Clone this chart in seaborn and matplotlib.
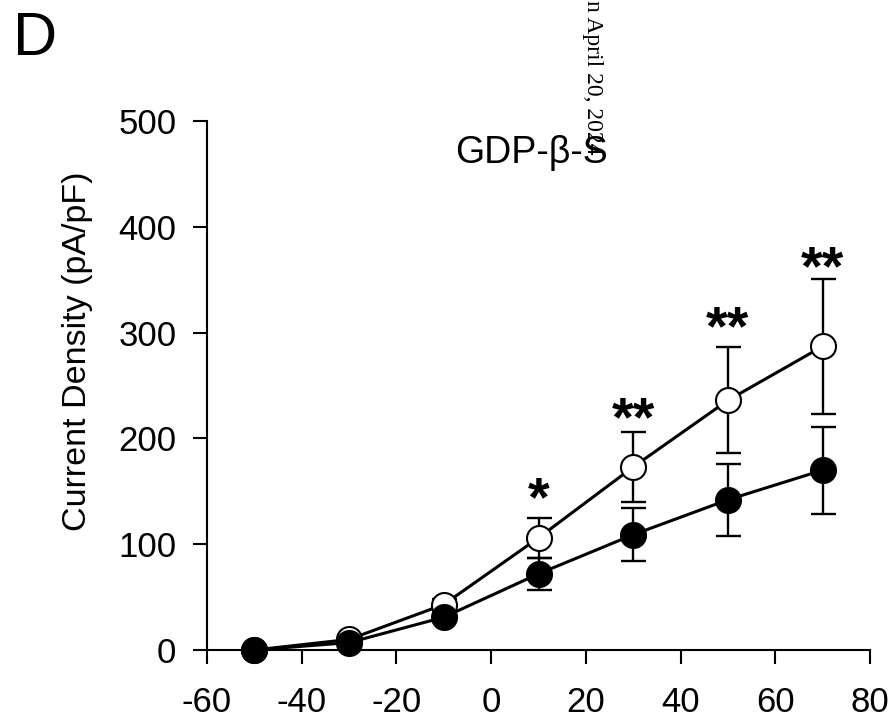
import matplotlib
matplotlib.use("Agg")
import matplotlib.pyplot as plt
import seaborn as sns
import pandas as pd

# membrane potential (mV)
voltage = [-50, -30, -10, 10, 30, 50, 70]

# open circles
open_mean = [0, 10, 43, 106, 173, 236, 287]
open_sem = [0, 3, 5, 19, 33, 50, 64]

# filled circles (GDP-beta-S)
filled_mean = [0, 7, 31, 72, 109, 142, 170]
filled_sem = [0, 3, 4, 15, 25, 34, 41]

# significance marks
star_x = [10, 30, 50, 70]
star_text = ["*", "**", "**", "**"]
star_y = [127, 203, 289, 346]

df_open = pd.DataFrame({"V": voltage, "I": open_mean})
df_filled = pd.DataFrame({"V": voltage, "I": filled_mean})

sns.set_style("ticks")
plt.rcParams["font.family"] = ["Liberation Sans", "DejaVu Sans"]
plt.rcParams["axes.unicode_minus"] = False
plt.rcParams["text.color"] = "black"
plt.rcParams["axes.labelcolor"] = "black"
plt.rcParams["xtick.color"] = "black"
plt.rcParams["ytick.color"] = "black"
plt.rcParams["axes.edgecolor"] = "black"

fig = plt.figure(figsize=(8.94, 7.2), dpi=100)
ax = fig.add_axes([0.2315, 0.0972, 0.7417, 0.7348])

# error bars first so the markers sit over them
ax.errorbar(voltage, open_mean, yerr=open_sem, fmt="none", ecolor="black",
            elinewidth=1.7, capsize=9, capthick=1.7, zorder=2, clip_on=False)
ax.errorbar(voltage, filled_mean, yerr=filled_sem, fmt="none", ecolor="black",
            elinewidth=1.7, capsize=9, capthick=1.7, zorder=2, clip_on=False)

sns.lineplot(data=df_open, x="V", y="I", ax=ax, color="black", linewidth=2.2,
             marker="o", markersize=18, markerfacecolor="white",
             markeredgecolor="black", markeredgewidth=1.5, zorder=3, clip_on=False)
sns.lineplot(data=df_filled, x="V", y="I", ax=ax, color="black", linewidth=2.2,
             marker="o", markersize=18, markerfacecolor="black",
             markeredgecolor="black", markeredgewidth=1.5, zorder=4, clip_on=False)

for x, t, y in zip(star_x, star_text, star_y):
    ax.text(x, y, t, ha="center", va="baseline", fontsize=40, fontweight="bold")

ax.set_xlim(-60, 80)
ax.set_ylim(0, 500)
ax.set_xticks(range(-60, 81, 20))
ax.set_yticks(range(0, 501, 100))
ax.tick_params(axis="both", labelsize=25, length=10, width=1.5, direction="out")
ax.tick_params(axis="y", pad=12)
ax.tick_params(axis="x", pad=16)
for s in ["top", "right"]:
    ax.spines[s].set_visible(False)
for s in ["left", "bottom"]:
    ax.spines[s].set_linewidth(1.5)

ax.set_xlabel("")
ax.set_ylabel("Current Density (pA/pF)", fontsize=24.5)
ax.yaxis.set_label_coords(-0.172, 0.565)

ax.text(0.49, 0.94, "GDP-β-S", transform=ax.transAxes, ha="center",
        va="center", fontsize=27)

fig.text(0.015, 0.985, "D", fontsize=44, ha="left", va="top")
fig.text(592 / 894, 1.0, "n April 20, 2024", rotation=270,
         ha="center", va="top", fontsize=17, family=["Liberation Serif"])

fig.savefig("out.png", dpi=100)
